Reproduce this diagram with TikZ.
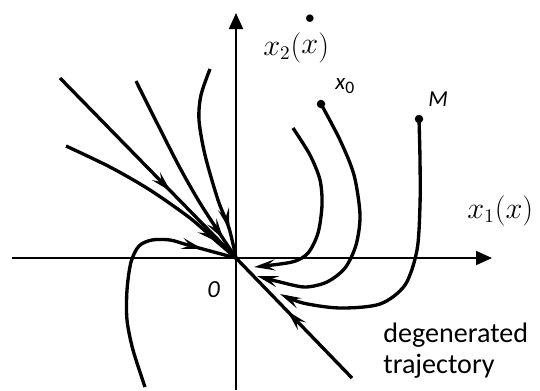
\documentclass[tikz,border=0pt]{standalone}
\usepackage{fontspec}
\newfontfamily\calibri{Carlito}
\usetikzlibrary{arrows.meta,decorations.markings}

\begin{document}
\begin{tikzpicture}[x=0.02cm, y=-0.02cm,
    >={Stealth[length=0.42cm,width=0.22cm,inset=0.16cm]},
    axis/.style={line width=1.1pt, -{Triangle[length=0.32cm,width=0.28cm]}},
    traj/.style={line width=1.9pt, line join=round},
    flow/.style={postaction={decorate},
      decoration={markings, mark=at position #1 with {\arrow{>}}}},
    dot/.style={circle, fill, inner sep=0pt, minimum size=0.17cm}]
  \useasboundingbox (0,0) rectangle (540,390);
  \coordinate (O) at (236,258);
  \coordinate (xl) at (12,258);
  \coordinate (xr) at (492,258);
  \coordinate (yb) at (236,390);
  \coordinate (yt) at (236,13);
  % axes
  \draw[axis] (xl) -- (xr);
  \draw[axis] (yb) -- (yt);
  \node[anchor=base west, inner sep=0pt, font=\fontsize{16}{16}\selectfont] (lx2) at (263,55)
    {$x_2(\stackrel{\raisebox{8pt}{\fontsize{11}{11}\selectfont$\bullet$}}{x})$};
  \node[anchor=base west, inner sep=0pt, font=\fontsize{16}{16}\selectfont] (lx1) at (467,218) {$x_1(x)$};
  \node[anchor=base west, inner sep=0pt, font=\calibri\itshape\fontsize{14}{14}\selectfont] (l0) at (207,297) {0};
  % degenerated trajectory
  \coordinate (d1) at (60,78);
  \coordinate (d2) at (352,378);
  \draw[traj, flow=0.63] (d1) -- (O);
  \draw[traj, flow=0.56] (d2) -- (O);
  % left side
  \draw[traj, flow=0.88] plot[smooth] coordinates {(66,146) (110,167) (150,190) (190,218) (215,240) (O)};
  \draw[traj, flow=0.89] plot[smooth] coordinates {(136,81) (158,125) (180,168) (200,203) (222,237) (O)};
  \draw[traj, flow=0.85] plot[smooth] coordinates {(210,69) (201,95) (199,120) (205,155) (218,200) (229,228) (O)};
  \draw[traj, flow=0.86] plot[smooth] coordinates {(145,387) (133,350) (127,320) (127,290) (131,262) (139,246) (152,240) (170,240) (188,245) (O)};
  % right side
  \node[dot] (x0) at (321,104) {};
  \node[dot] (M) at (419,119) {};
  \node[anchor=base west, inner sep=0pt, font=\calibri\fontsize{13}{13}\selectfont] (lx0) at (335,89)
    {\itshape x\/\upshape\raisebox{-2.5pt}{\fontsize{10}{10}\selectfont 0}};
  \node[anchor=base west, inner sep=0pt, font=\calibri\itshape\fontsize{13}{13}\selectfont] (lM) at (428,106) {M};
  \draw[traj, ->] plot[smooth] coordinates {(293,128) (310,155) (320,180) (322,205) (318,233) (308,253) (292,262) (254,267)};
  \draw[traj, ->] plot[smooth] coordinates {(x0.center) (340,140) (354,175) (360,215) (356,245) (345,268) (327,282) (305,287) (280,282) (257,276)};
  \draw[traj, ->] plot[smooth] coordinates {(M.center) (420,160) (420,205) (417,250) (405,285) (380,304) (340,308) (303,303) (280,294)};
  \node[anchor=north west, inner sep=0pt, align=left, font=\calibri\fontsize{16}{17.5}\selectfont] (ldeg) at (383,323)
    {degenerated\\trajectory};
\end{tikzpicture}
\end{document}
